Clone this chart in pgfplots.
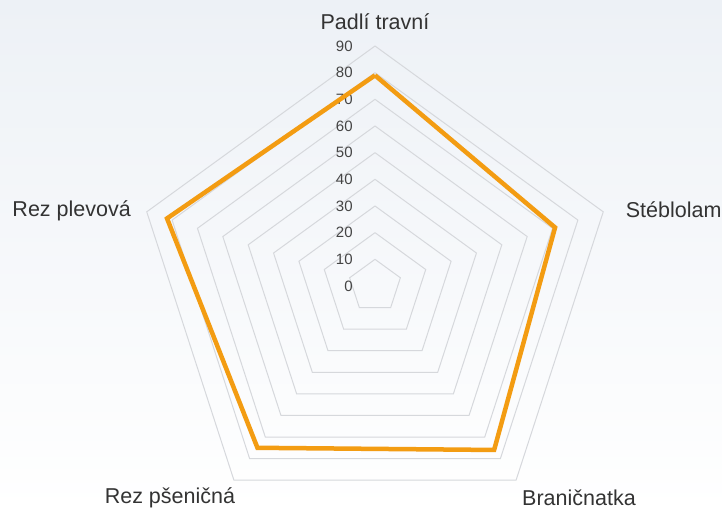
\documentclass[border=0pt]{standalone}
\usepackage{fontspec}
\setmainfont{Liberation Sans}
\usepackage{pgfplots}
\pgfplotsset{compat=1.18}
\definecolor{bgtop}{HTML}{EDF1F6}
\definecolor{gridc}{HTML}{D6D8DC}
\definecolor{txt}{HTML}{333333}
\definecolor{ticktxt}{HTML}{444444}
\definecolor{serie}{HTML}{F39C12}

\begin{document}
\begin{tikzpicture}
\begin{axis}[scale only axis, width=722pt, height=511pt,
  xmin=-140.625, xmax=130.125, ymin=-84.375, ymax=107.25,
  hide axis, clip=false]
% background
\shade[top color=bgtop, bottom color=white] (rel axis cs:0,0) rectangle (rel axis cs:1,1);
% grid pentagons
\pgfplotsinvokeforeach{10,20,30,40,50,60,70,80,90}{
  \addplot[gridc, line width=1pt, data cs=polar, line join=miter] coordinates {(90,#1) (18,#1) (-54,#1) (-126,#1) (162,#1) (90,#1)};
}
% radial labels
\pgfplotsinvokeforeach{0,10,20,30,40,50,60,70,80,90}{
  \node[anchor=east, text=ticktxt, font=\fontsize{15}{17}\selectfont, inner sep=0pt] at (axis cs:-8.3,#1) {#1};
}
% category names
\node[text=txt, font=\fontsize{21.5}{25}\selectfont, inner sep=0pt] at (axis cs:0,99) {Padlí travní};
\node[anchor=west, text=txt, font=\fontsize{21.5}{25}\selectfont, inner sep=0pt] at (axis cs:94,28.5) {Stéblolam};
\node[anchor=east, text=txt, font=\fontsize{21.5}{25}\selectfont, inner sep=0pt] at (axis cs:-91.5,28.2) {Rez plevová};
\node[text=txt, font=\fontsize{21.5}{25}\selectfont, inner sep=0pt] at (axis cs:-76.9,-79.5) {Rez pšeničná};
\node[text=txt, font=\fontsize{21.5}{25}\selectfont, inner sep=0pt] at (axis cs:76.5,-79.5) {Braničnatka};
% data series
\addplot[serie, line width=4.5pt, line join=miter, data cs=polar] coordinates {(90,79) (18,71) (-54,76) (-126,75) (162,82) (90,79)};
\end{axis}
\end{tikzpicture}
\end{document}
